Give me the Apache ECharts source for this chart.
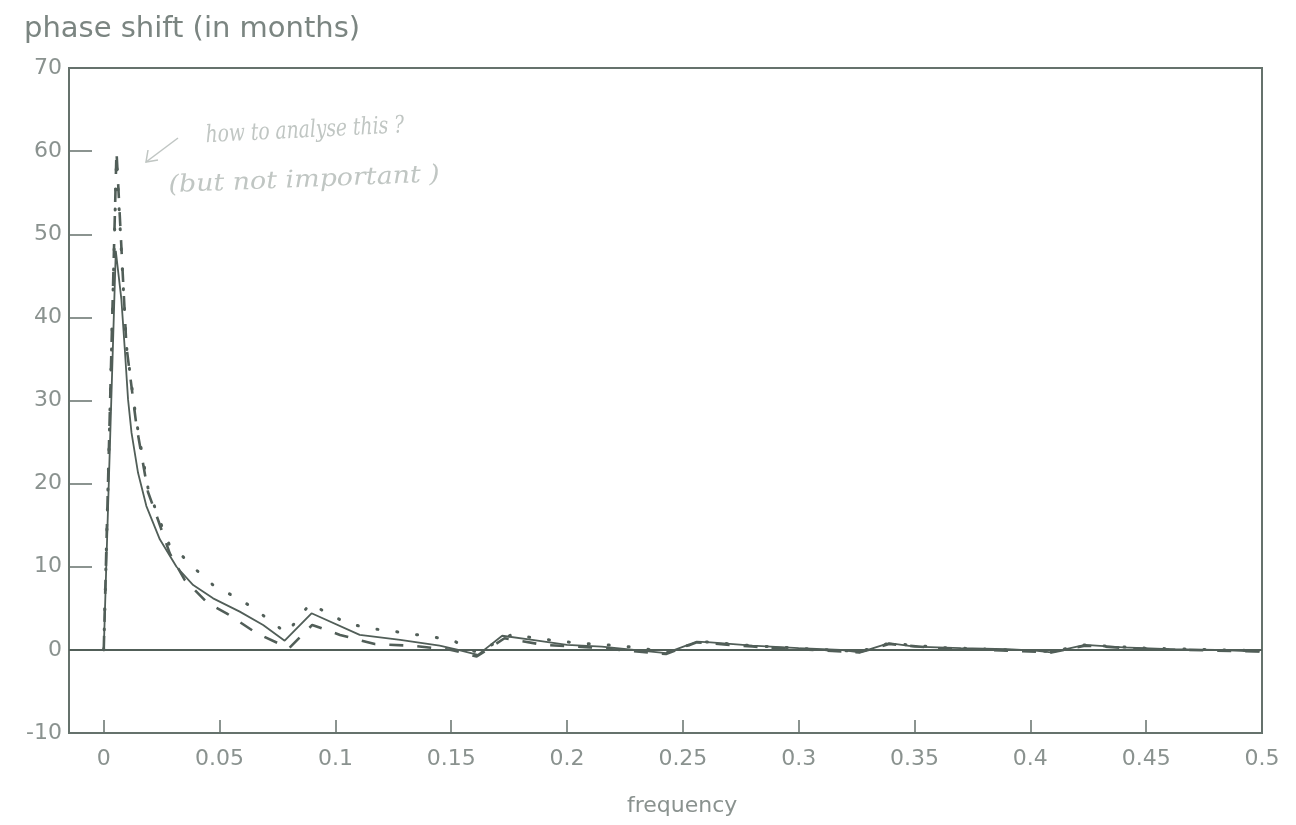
<!DOCTYPE html>
<html>
<head>
<meta charset="utf-8">
<script src="https://cdn.jsdelivr.net/npm/echarts@6/dist/echarts.min.js"></script>
<style>
html,body{margin:0;padding:0;background:#ffffff;}
#chart{width:1296px;height:825px;}
</style>
</head>
<body>
<div id="chart"></div>
<script>
// ---- data ----
var xTicks = [0, 0.05, 0.1, 0.15, 0.2, 0.25, 0.3, 0.35, 0.4, 0.45, 0.5];
var xTickLabels = ['0', '0.05', '0.1', '0.15', '0.2', '0.25', '0.3', '0.35', '0.4', '0.45', '0.5'];

// solid line
var solidFreq = [0, 0.0052, 0.0076, 0.0091, 0.0105, 0.012, 0.0148, 0.0184, 0.0242, 0.0314, 0.0386, 0.0472, 0.0587, 0.0688, 0.0781, 0.0897, 0.1105, 0.128, 0.145, 0.153, 0.1615, 0.172, 0.185, 0.2, 0.215, 0.2427, 0.256, 0.262, 0.28, 0.3, 0.318, 0.3264, 0.339, 0.35, 0.37, 0.39, 0.402, 0.409, 0.4236, 0.44, 0.46, 0.48, 0.499];
var solidVal  = [0, 48, 42.2, 36.1, 30.1, 26.1, 21.3, 17.3, 13.3, 10.0, 7.8, 6.2, 4.6, 3.0, 1.1, 4.4, 1.8, 1.2, 0.5, 0.0, -0.6, 1.7, 1.2, 0.6, 0.4, -0.4, 1.0, 0.9, 0.5, 0.2, 0.0, -0.3, 0.8, 0.4, 0.2, 0.1, -0.1, -0.3, 0.6, 0.3, 0.1, 0.0, -0.2];

// dashed line
var dashFreq = [0, 0.0055, 0.0098, 0.0141, 0.0191, 0.0235, 0.0285, 0.035, 0.045, 0.053, 0.066, 0.08, 0.09, 0.102, 0.117, 0.133, 0.15, 0.161, 0.173, 0.19, 0.21, 0.2427, 0.256, 0.28, 0.3264, 0.339, 0.36, 0.409, 0.4236, 0.45, 0.499];
var dashVal  = [0, 60, 36.5, 27, 19, 15.6, 11.6, 8.4, 5.6, 4.4, 2.0, 0.2, 3.0, 1.8, 0.7, 0.5, 0.0, -0.8, 1.4, 0.6, 0.3, -0.5, 0.9, 0.4, -0.3, 0.7, 0.2, -0.3, 0.5, 0.1, -0.2];

// dotted line
var dotFreq = [0, 0.0055, 0.0098, 0.0141, 0.0191, 0.0235, 0.0285, 0.0335, 0.04, 0.0472, 0.0551, 0.0638, 0.0714, 0.0789, 0.0892, 0.0965, 0.1048, 0.1142, 0.1235, 0.133, 0.142, 0.151, 0.161, 0.1766, 0.186, 0.1956, 0.205, 0.223, 0.2427, 0.258, 0.28, 0.3264, 0.339, 0.36, 0.409, 0.4236, 0.45, 0.499];
var dotVal  = [0, 59, 36.5, 27.5, 19.5, 16, 12.5, 11.4, 9.6, 7.8, 6.6, 5.2, 3.6, 2.0, 5.6, 4.4, 3.25, 2.6, 2.3, 1.9, 1.56, 1.1, -0.3, 1.9, 1.4, 1.1, 0.8, 0.5, -0.2, 1.0, 0.5, -0.2, 0.8, 0.3, -0.2, 0.6, 0.2, -0.1];

function pairs(fs, vs) { return fs.map(function (f, i) { return [f, vs[i]]; }); }

var lineColor = '#515e58';
var frameColor = '#65726c';
var textColor = '#8a928f';
var noteColor = '#c0c6c3';

var chart = echarts.init(document.getElementById('chart'), null, {renderer: 'canvas'});
chart.setOption({
  animation: false,
  backgroundColor: '#ffffff',
  title: {
    text: 'phase shift (in months)',
    left: 19, top: 10,
    textStyle: {color: '#7b8581', fontSize: 29, fontWeight: 'normal', fontFamily: 'DejaVu Sans'}
  },
  grid: {left: 69, right: 34, top: 68, bottom: 92, show: true, borderColor: frameColor, borderWidth: 2, backgroundColor: 'transparent'},
  xAxis: {
    type: 'value', min: -0.015, max: 0.5,
    axisLine: {show: false, onZero: false},
    splitLine: {show: false},
    axisTick: {show: true, inside: true, length: 13, customValues: xTicks, lineStyle: {color: frameColor, width: 1.5}},
    axisLabel: {
      show: true, customValues: xTicks, margin: 15,
      color: textColor, fontSize: 22, fontFamily: 'DejaVu Sans',
      formatter: function (v) { var i = xTicks.indexOf(v); return i >= 0 ? xTickLabels[i] : ''; }
    }
  },
  yAxis: {
    type: 'value', min: -10, max: 70, interval: 10,
    axisLine: {show: false, onZero: false},
    splitLine: {show: false},
    axisTick: {show: true, inside: true, length: 23, lineStyle: {color: frameColor, width: 1.5}},
    axisLabel: {color: textColor, fontSize: 22, fontFamily: 'DejaVu Sans', margin: 7}
  },
  graphic: [
    {type: 'text', left: 627, top: 795,
     style: {text: 'frequency', fill: textColor, font: '22px "DejaVu Sans"'}},
    {type: 'text', x: 205, y: 124, rotation: 0.05, scaleX: 0.78,
     style: {text: 'how to analyse this ?', fill: noteColor, font: 'italic 24px "DejaVu Serif"'}},
    {type: 'text', x: 168, y: 174, rotation: 0.04, scaleX: 1.12,
     style: {text: '(but not important )', fill: noteColor, font: 'italic 24px "DejaVu Serif"'}},
    {type: 'polyline', shape: {points: [[178, 138], [146, 162]]}, style: {stroke: noteColor, lineWidth: 1.5, fill: null}},
    {type: 'polyline', shape: {points: [[148, 150], [146, 162], [158, 160]]}, style: {stroke: noteColor, lineWidth: 1.5, fill: null}}
  ],
  series: [
    {
      name: 'solid', type: 'line', data: pairs(solidFreq, solidVal), showSymbol: false, silent: true,
      lineStyle: {color: lineColor, width: 1.8},
      markLine: {silent: true, symbol: ['none', 'none'], label: {show: false},
        lineStyle: {color: lineColor, width: 2, type: 'solid'}, data: [{yAxis: 0}]}
    },
    {
      name: 'dashed', type: 'line', data: pairs(dashFreq, dashVal), showSymbol: false, silent: true,
      lineStyle: {color: lineColor, width: 2.6, type: [14, 14]}
    },
    {
      name: 'dotted', type: 'line', data: pairs(dotFreq, dotVal), showSymbol: false, silent: true,
      lineStyle: {color: lineColor, width: 3, type: [1, 19], cap: 'round'}
    }
  ]
});
</script>
</body>
</html>
